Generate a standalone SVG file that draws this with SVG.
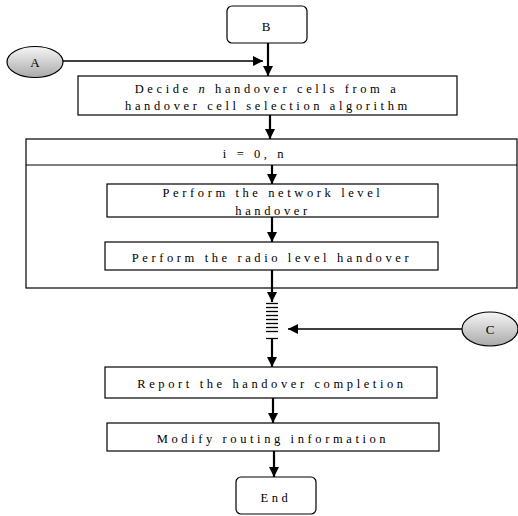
<svg xmlns="http://www.w3.org/2000/svg" width="518" height="516" viewBox="0 0 518 516">
<defs>
<linearGradient id="g" x1="0" y1="0" x2="0" y2="1">
<stop offset="0" stop-color="#f6f6f6"/>
<stop offset="1" stop-color="#a9a9a9"/>
</linearGradient>
<marker id="ah" viewBox="0 0 10 10" refX="10" refY="5" markerWidth="10" markerHeight="10" markerUnits="userSpaceOnUse" orient="auto">
<path d="M0,0 L10,5 L0,10 Z" fill="#000"/>
</marker>
</defs>
<style>
.box{fill:#fff;stroke:#000;stroke-width:1.2}
.t{font-family:"Liberation Serif",serif;font-size:12.5px;letter-spacing:3.6px;text-anchor:middle;fill:#000}
.s{font-family:"Liberation Serif",serif;font-size:13px;text-anchor:middle;fill:#000}
.c{fill:none;stroke:#000;stroke-width:2.2}
.h{fill:none;stroke:#000;stroke-width:1.5}
.bar{stroke:#000;stroke-width:1.3}
</style>
<rect width="518" height="516" fill="#fff"/>
<g id="loop">
<rect class="box" x="26" y="139" width="491" height="149"/>
<line x1="26" y1="165" x2="517" y2="165" stroke="#000" stroke-width="1.2"/>
<text class="t" x="255" y="158">i = 0, n</text>
</g>
<g id="B">
<rect class="box" x="227" y="6" width="80" height="37" rx="5"/>
<text class="s" x="266" y="31">B</text>
</g>
<g id="A">
<ellipse cx="35" cy="62" rx="28" ry="15.5" fill="url(#g)" stroke="#000" stroke-width="1.2"/>
<text class="s" x="35" y="67">A</text>
</g>
<g id="C">
<ellipse cx="490" cy="329" rx="28" ry="17" fill="url(#g)" stroke="#000" stroke-width="1.2"/>
<text class="s" x="490" y="334">C</text>
</g>
<g id="decide">
<rect class="box" x="78" y="76" width="379" height="39"/>
<text class="t" x="267" y="93">Decide <tspan font-style="italic">n</tspan> handover cells from a</text>
<text class="t" x="268" y="110">handover cell selection algorithm</text>
</g>
<g id="network">
<rect class="box" x="107" y="184" width="331" height="33"/>
<text class="t" x="273" y="197">Perform the network level</text>
<text class="t" x="273" y="215">handover</text>
</g>
<g id="radio">
<rect class="box" x="105" y="242" width="333" height="28"/>
<text class="t" x="272" y="262">Perform the radio level handover</text>
</g>
<g id="junction">
<line class="bar" x1="266" y1="303.5" x2="278" y2="303.5"/>
<line class="bar" x1="266" y1="307.5" x2="278" y2="307.5"/>
<line class="bar" x1="266" y1="311.5" x2="278" y2="311.5"/>
<line class="bar" x1="266" y1="315.5" x2="278" y2="315.5"/>
<line class="bar" x1="266" y1="319.5" x2="278" y2="319.5"/>
<line class="bar" x1="266" y1="323.5" x2="278" y2="323.5"/>
<line class="bar" x1="266" y1="327.5" x2="278" y2="327.5"/>
<line class="bar" x1="266" y1="331.5" x2="278" y2="331.5"/>
<line class="bar" x1="266" y1="338.5" x2="278" y2="338.5"/>
</g>
<g id="report">
<rect class="box" x="105" y="367" width="332" height="31"/>
<text class="t" x="272" y="388">Report the handover completion</text>
</g>
<g id="modify">
<rect class="box" x="107" y="423" width="332" height="28"/>
<text class="t" x="273" y="443">Modify routing information</text>
</g>
<g id="end">
<rect class="box" x="236" y="477" width="80" height="37" rx="5"/>
<text class="t" x="276" y="502">End</text>
</g>
<g id="connectors">
<line class="c" x1="268" y1="43" x2="268" y2="76" marker-end="url(#ah)"/>
<line class="h" x1="63" y1="61" x2="263" y2="61" marker-end="url(#ah)"/>
<line class="c" x1="270" y1="115" x2="270" y2="139" marker-end="url(#ah)"/>
<line class="c" x1="272" y1="165" x2="272" y2="184" marker-end="url(#ah)"/>
<line class="c" x1="272" y1="217" x2="272" y2="242" marker-end="url(#ah)"/>
<line class="c" x1="272" y1="270" x2="272" y2="302" marker-end="url(#ah)"/>
<line class="h" x1="462" y1="329" x2="288" y2="329" marker-end="url(#ah)"/>
<line class="c" x1="272" y1="339" x2="272" y2="367" marker-end="url(#ah)"/>
<line class="c" x1="273" y1="398" x2="273" y2="423" marker-end="url(#ah)"/>
<line class="c" x1="274" y1="451" x2="274" y2="477" marker-end="url(#ah)"/>
</g>
</svg>
